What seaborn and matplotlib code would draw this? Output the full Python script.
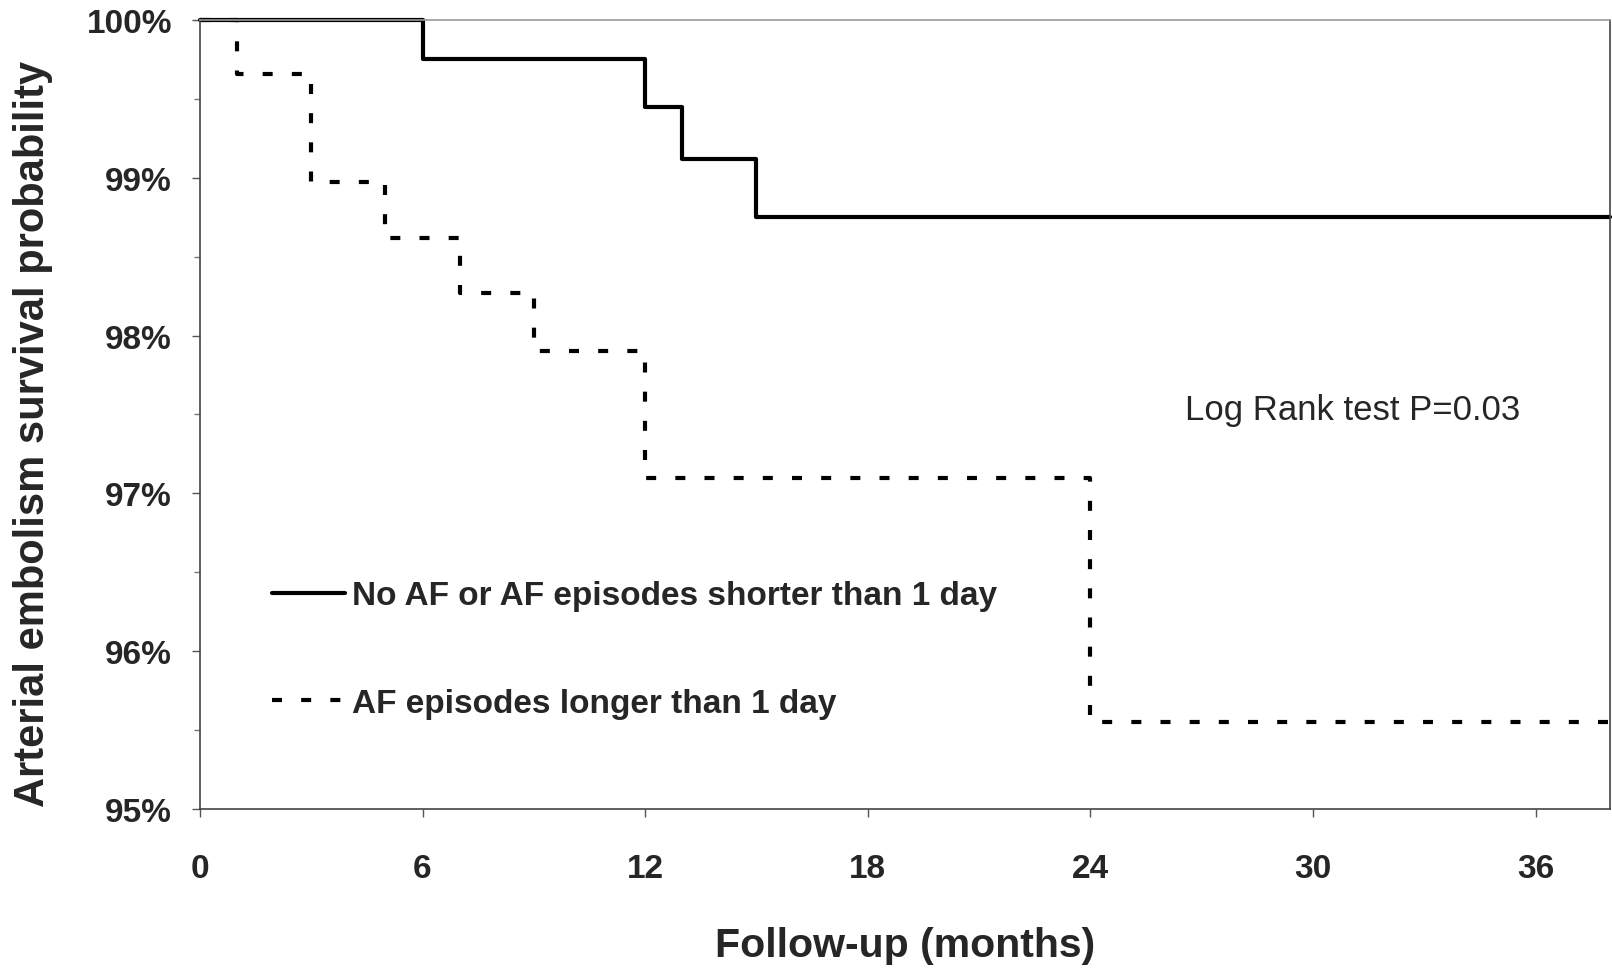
import matplotlib
matplotlib.use("Agg")
import matplotlib.pyplot as plt
import seaborn as sns
from matplotlib.ticker import PercentFormatter, MultipleLocator

# ------------------------------------------------------------
# Data
# ------------------------------------------------------------
short_months = [0, 6, 12, 13, 15, 38]
short_surv = [100, 99.75, 99.45, 99.12, 98.75, 98.75]

long_months = [0, 1, 3, 5, 7, 9, 12, 24, 38]
long_surv = [100, 99.66, 98.97, 98.62, 98.27, 97.90, 97.10, 95.55, 95.55]

short_label = "No AF or AF episodes shorter than 1 day"
long_label = "AF episodes longer than 1 day"
x_ticks = [0, 6, 12, 18, 24, 30, 36]
y_ticks = [95, 96, 97, 98, 99, 100]

# ------------------------------------------------------------
# Style
# ------------------------------------------------------------
sns.set_style("ticks")
plt.rcParams['font.family'] = ['Liberation Sans', 'DejaVu Sans']
plt.rcParams['font.weight'] = 'bold'

fig = plt.figure(figsize=(16.12, 9.70), dpi=100)
ax = fig.add_axes([0.124, 0.165, 0.8747, 0.8134])

sns.lineplot(x=short_months, y=short_surv, drawstyle='steps-post',
             color='black', lw=3, label=short_label, ax=ax, clip_on=False)
sns.lineplot(x=long_months, y=long_surv, drawstyle='steps-post',
             color='black', lw=3, ls=(0, (2.4, 4.6)), label=long_label,
             ax=ax, clip_on=False)

ax.set_xlim(0, 38)
ax.set_ylim(95, 100)
ax.set_xticks(x_ticks)
ax.set_yticks(y_ticks)
ax.yaxis.set_minor_locator(MultipleLocator(0.5))
ax.yaxis.set_major_formatter(PercentFormatter(xmax=100, decimals=0))

ax.tick_params(axis='both', which='major', direction='out', length=6,
               width=1, color='#555555', labelsize=24)
ax.tick_params(axis='y', which='major', pad=14)
ax.tick_params(axis='x', which='major', pad=26)
ax.tick_params(axis='y', which='minor', direction='out', length=4,
               width=1, color='#777777')
for lbl in ax.get_xticklabels() + ax.get_yticklabels():
    lbl.set_fontweight('bold')

for side in ['left', 'bottom', 'right']:
    ax.spines[side].set_color('#444444')
    ax.spines[side].set_linewidth(1.2)
ax.spines['top'].set_color('#999999')
ax.spines['top'].set_linewidth(1.2)

ax.set_xlabel('Follow-up (months)', fontsize=29.5, fontweight='bold')
ax.set_ylabel('Arterial embolism survival probability', fontsize=30,
              fontweight='bold')
ax.xaxis.set_label_coords(0.5, -0.148)
ax.yaxis.set_label_coords(-0.104, 0.4766)

ax.legend(loc='center left', bbox_to_anchor=(0.051, 0.202), frameon=False,
          borderpad=0, borderaxespad=0, handlelength=2.2,
          handletextpad=0.2, labelspacing=2.3,
          prop={'size': 24, 'weight': 'bold'})

ax.text(0.699, 0.506, 'Log Rank test P=0.03', transform=ax.transAxes,
        ha='left', va='center', fontsize=25, fontweight='normal',
        family=['Liberation Sans Narrow', 'Liberation Sans'])

fig.savefig('out.png', dpi=100)
plt.close(fig)
